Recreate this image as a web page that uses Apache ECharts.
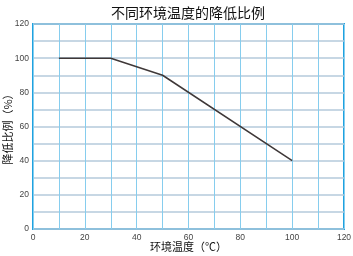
<!DOCTYPE html>
<html><head><meta charset="utf-8">
<script src="https://cdn.jsdelivr.net/npm/echarts@6/dist/echarts.min.js"></script>
<style>html,body{margin:0;padding:0;background:#fff}#c{width:353px;height:256px}</style>
</head><body><div id="c"></div>
<script>
var title = '不同环境温度的降低比例';
var xName = '环境温度（℃）';
var yName = '降低比例（%）';
var temps = [10, 30, 50, 100];
var ratios = [100, 100, 90, 40];
var tickLabels = [0, 20, 40, 60, 80, 100, 120];

var chart = echarts.init(document.getElementById('c'));
var fmt = function (v) { return tickLabels.indexOf(v) >= 0 ? String(v) : ''; };
var font = 'Noto Sans CJK SC, sans-serif';
chart.setOption({
  animation: false,
  title: { text: title, left: 183, textAlign: 'center', top: 1,
    textStyle: { fontSize: 14, fontWeight: 'normal', color: '#111', fontFamily: font } },
  grid: { left: 33, right: 9, top: 24, bottom: 27, show: true, borderColor: '#1ea2e0', borderWidth: 2,
    containLabel: false, outerBoundsMode: 'none' },
  xAxis: {
    type: 'value', min: 0, max: 120, interval: 10,
    name: xName, nameLocation: 'middle', nameGap: 12, nameMoveOverlap: false,
    nameTextStyle: { fontSize: 11, color: '#111', fontFamily: font },
    axisLine: { show: false }, axisTick: { show: false },
    axisLabel: { formatter: fmt, fontSize: 8.5, color: '#444', margin: 4, fontFamily: 'Liberation Sans, Arial, sans-serif' },
    splitLine: { lineStyle: { color: '#86cdee', width: 1 } }
  },
  yAxis: {
    type: 'value', min: 0, max: 120, interval: 10,
    name: yName, nameLocation: 'middle', nameGap: 20, nameRotate: 90, nameMoveOverlap: false,
    nameTextStyle: { fontSize: 11, color: '#111', fontFamily: font },
    axisLine: { show: false },
    axisTick: { show: false },
    axisLabel: { formatter: fmt, fontSize: 8.5, color: '#444', margin: 4, fontFamily: 'Liberation Sans, Arial, sans-serif' },
    splitLine: { lineStyle: { color: '#b4cadb', width: 1.5 } }
  },
  series: [{
    type: 'line', data: temps.map(function (t, i) { return [t, ratios[i]]; }),
    symbol: 'none', lineStyle: { color: '#3f3838', width: 1.5 }
  }]
});
</script></body></html>
